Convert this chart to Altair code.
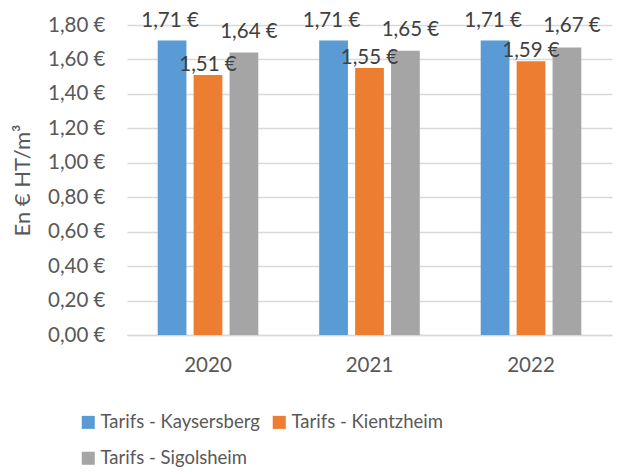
import altair as alt
import pandas as pd

years = ["2020", "2021", "2022"]
series = ["Tarifs - Kaysersberg", "Tarifs - Kientzheim", "Tarifs - Sigolsheim"]
kaysersberg = [1.71, 1.71, 1.71]
kientzheim = [1.51, 1.55, 1.59]
sigolsheim = [1.64, 1.65, 1.67]
colors = ["#5B9BD5", "#ED7D31", "#A5A5A5"]
y_ticks = [0, 0.2, 0.4, 0.6, 0.8, 1.0, 1.2, 1.4, 1.6, 1.8]

rows = []
for s, vals in zip(series, [kaysersberg, kientzheim, sigolsheim]):
    for y, v in zip(years, vals):
        rows.append({"Année": y, "Série": s, "Valeur": v})
df = pd.DataFrame(rows)

FONT = "Lato"
TXT = "#595959"
FS = 20.5

x = alt.X("Année:N", title=None,
          scale=alt.Scale(paddingInner=0.377, paddingOuter=0.19),
          axis=alt.Axis(labelAngle=0, labelFontSize=FS, labelColor=TXT, labelFont=FONT,
                        labelPadding=20, ticks=False, grid=False,
                        domainColor="#D9D9D9", domainWidth=1.5))
xo = alt.XOffset("Série:N", scale=alt.Scale(domain=series, paddingInner=0.2, paddingOuter=0))
y = alt.Y("Valeur:Q", title="En € HT/m³",
          scale=alt.Scale(domain=[0, 1.8], nice=False),
          axis=alt.Axis(values=y_ticks,
                        labelExpr="replace(format(datum.value, '.2f'), '.', ',') + ' €'",
                        labelFontSize=FS, labelColor=TXT, labelFont=FONT, labelPadding=22,
                        labelOverlap=False,
                        ticks=False, domain=False, gridColor="#D9D9D9", gridWidth=1.5,
                        titleFontSize=22, titleFont=FONT, titleColor=TXT, titleFontWeight="normal",
                        titleX=-93, titleY=155, titleAngle=-90))

bars = alt.Chart(df).mark_bar().encode(
    x=x, xOffset=xo, y=y,
    color=alt.Color("Série:N", scale=alt.Scale(domain=series, range=colors),
                    legend=alt.Legend(title=None, orient="none", legendX=-48, legendY=388,
                                      columns=2, direction="horizontal",
                                      symbolType="square", symbolSize=170, symbolStrokeWidth=0,
                                      labelFontSize=18.5, labelFont=FONT, labelColor=TXT,
                                      labelOffset=3, columnPadding=10, rowPadding=17,
                                      labelLimit=300)),
)

layers = [bars]
dys = [-20, -10, -21]
dxs = [-2, 0, 5]
for s, dy, dx in zip(series, dys, dxs):
    layers.append(
        alt.Chart(df).transform_filter(alt.datum["Série"] == s).transform_calculate(
            lbl="replace(format(datum.Valeur, '.2f'), '.', ',') + ' €'"
        ).mark_text(
            dy=dy, dx=dx, baseline="middle", fontSize=FS, font=FONT, color="#404040"
        ).encode(x=x, xOffset=xo, y=y, text=alt.Text("lbl:N"))
    )

chart = alt.layer(*layers).properties(
    width=485, height=310,
    background="white",
    autosize=alt.AutoSizeParams(type="none"),
    padding={"left": 119, "top": 17, "right": 8, "bottom": 132},
).configure_view(stroke=None)

chart.save("out.html", embed_options={"renderer": "svg", "actions": False})
